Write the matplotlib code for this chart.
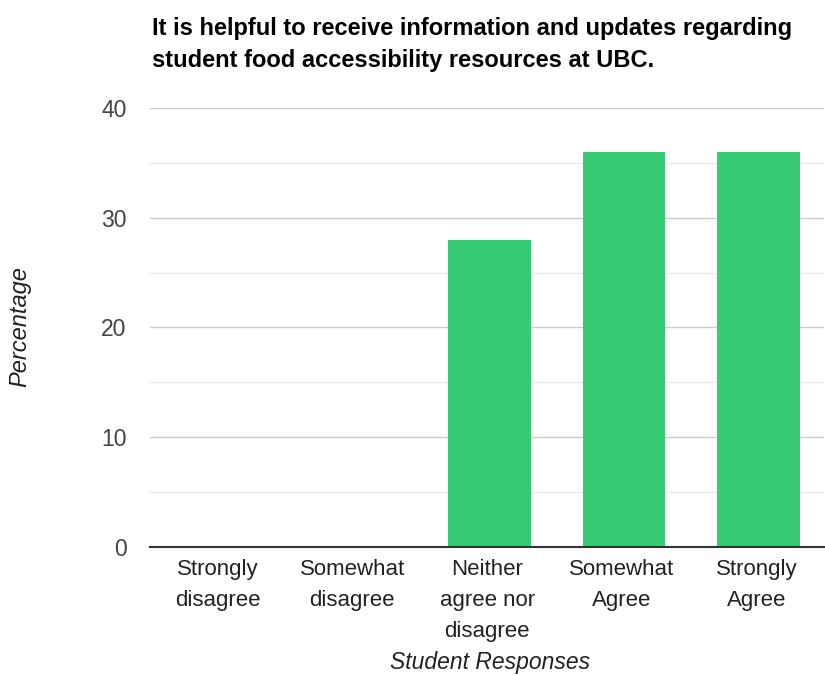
import numpy as np
import matplotlib
import matplotlib.pyplot as plt
from matplotlib.ticker import MultipleLocator

matplotlib.rcParams['font.family'] = ['Liberation Sans', 'DejaVu Sans']

categories = ["Strongly\ndisagree", "Somewhat\ndisagree", "Neither\nagree nor\ndisagree",
              "Somewhat\nAgree", "Strongly\nAgree"]
values = [0, 0, 28, 36, 36]
title_lines = ["It is helpful to receive information and updates regarding",
               "student food accessibility resources at UBC."]

bar_color = "#37cb73"
text_size = 16

fig = plt.figure(figsize=(8.25, 6.75), dpi=100)
ax = fig.add_axes([0.182, 0.19, 0.817, 0.65])

x = np.arange(len(categories))
ax.bar(x + 0.015, values, width=0.615, color=bar_color, zorder=3)

ax.set_xlim(-0.5, len(categories) - 0.5)
ax.set_ylim(0, 40)
ax.yaxis.set_major_locator(MultipleLocator(10))
ax.yaxis.set_minor_locator(MultipleLocator(5))
ax.grid(which='major', axis='y', color='#cccccc', lw=1, zorder=0)
ax.grid(which='minor', axis='y', color='#ebebeb', lw=1, zorder=0)

ax.set_xticks(x)
ax.set_xticklabels(categories, fontsize=text_size, color='#222222', linespacing=1.62)
ax.tick_params(axis='y', which='both', length=0, labelsize=16.5, labelcolor='#444444', pad=17)
ax.tick_params(axis='x', length=0, pad=9)

for s in ['top', 'right', 'left']:
    ax.spines[s].set_visible(False)
ax.spines['bottom'].set_color('#333333')
ax.spines['bottom'].set_linewidth(1.5)
ax.spines['bottom'].set_zorder(4)

fig.text(490 / 825, 1 - 663 / 675, "Student Responses", fontsize=16.5, style='italic',
         color='#222222', ha='center', va='center')
fig.text(20 / 825, 1 - 327 / 675, "Percentage", fontsize=17, style='italic', color='#222222',
         rotation=90, ha='center', va='center')

fig.text(152 / 825, 1 - 35 / 675, title_lines[0], fontsize=17, fontweight='bold',
         color='#000000', ha='left', va='baseline')
fig.text(152 / 825, 1 - 67 / 675, title_lines[1], fontsize=17, fontweight='bold',
         color='#000000', ha='left', va='baseline')

plt.savefig("out.png", dpi=100)
